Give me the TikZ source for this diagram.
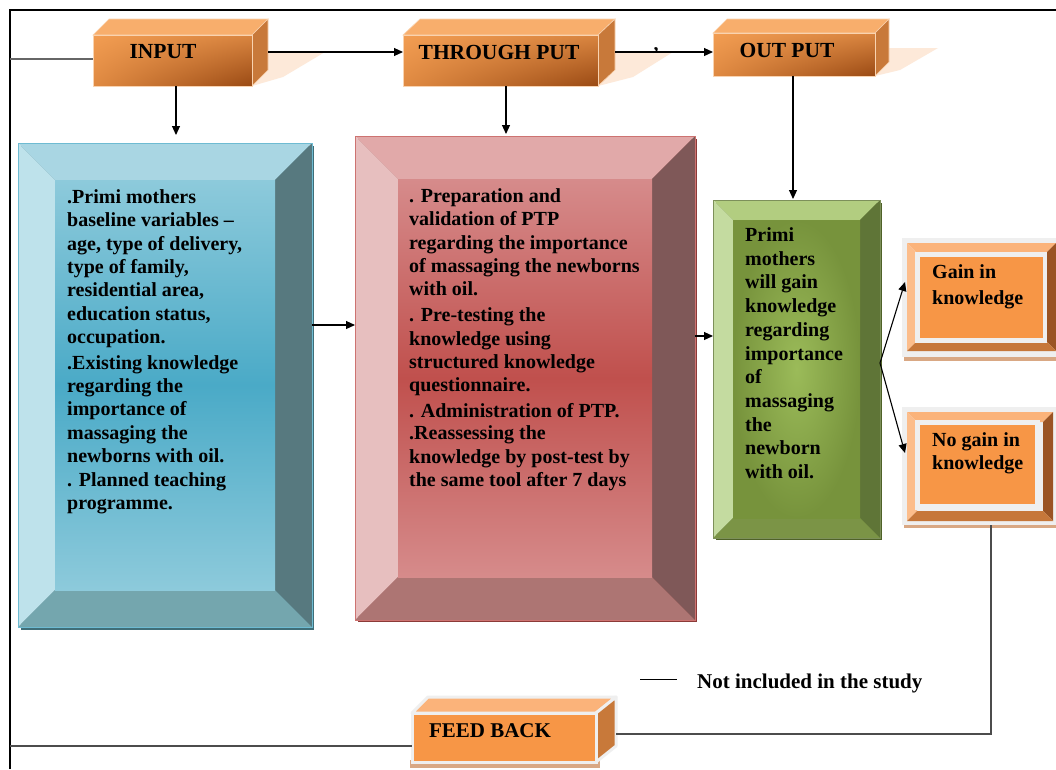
\documentclass[tikz,border=0pt]{standalone}
\usepackage{fontspec}
\setmainfont{Liberation Serif}
\usetikzlibrary{arrows.meta,shadings}
\definecolor{orUL}{HTML}{F29D52}
\definecolor{orUR}{HTML}{D98540}
\definecolor{orLL}{HTML}{E08A42}
\definecolor{orLR}{HTML}{9A4A14}
\definecolor{orTop}{HTML}{F8AE6C}
\definecolor{orSide}{HTML}{C8793A}
\definecolor{orEdge}{HTML}{F9D3B0}
\definecolor{orShadow}{HTML}{FDE9D9}
\definecolor{bTop}{HTML}{A9D6E3}
\definecolor{bLeft}{HTML}{BEE2EB}
\definecolor{bRight}{HTML}{57797F}
\definecolor{bBot}{HTML}{74A6AE}
\definecolor{bFaceA}{HTML}{8DCADB}
\definecolor{bFaceB}{HTML}{4AAAC7}
\definecolor{bShadow}{HTML}{3F6E78}
\definecolor{rTop}{HTML}{E1A9A9}
\definecolor{rLeft}{HTML}{E7BFBF}
\definecolor{rRight}{HTML}{7F5858}
\definecolor{rBot}{HTML}{AD7573}
\definecolor{rFaceA}{HTML}{D68B8B}
\definecolor{rFaceB}{HTML}{C0504D}
\definecolor{rShadow}{HTML}{8C3A38}
\definecolor{gTop}{HTML}{B2CD80}
\definecolor{gLeft}{HTML}{C4DBA0}
\definecolor{gRight}{HTML}{5F7537}
\definecolor{gBot}{HTML}{7B9446}
\definecolor{gFaceIn}{HTML}{9BBB59}
\definecolor{gFaceOut}{HTML}{77933C}
\definecolor{gShadow}{HTML}{4F6228}
\definecolor{oFrame}{HTML}{EFEFEF}
\definecolor{oTop}{HTML}{FBB37A}
\definecolor{oLeft}{HTML}{FCBD8B}
\definecolor{oRight}{HTML}{9A5424}
\definecolor{oBot}{HTML}{C6773A}
\definecolor{oFace}{HTML}{F79646}
\definecolor{oShadow}{HTML}{D9A884}
\newcommand\bev[9]{%
  \fill[#6] (#1,#2) -- (#3,#2) -- ({#3-#5},{#2+#5}) -- ({#1+#5},{#2+#5}) -- cycle;
  \fill[#7] (#1,#2) -- ({#1+#5},{#2+#5}) -- ({#1+#5},{#4-#5}) -- (#1,#4) -- cycle;
  \fill[#8] (#3,#2) -- (#3,#4) -- ({#3-#5},{#4-#5}) -- ({#3-#5},{#2+#5}) -- cycle;
  \fill[#9] (#1,#4) -- (#3,#4) -- ({#3-#5},{#4-#5}) -- ({#1+#5},{#4-#5}) -- cycle;
}
\newcommand\cuboid[6]{%
  \filldraw[fill=orTop, draw=orEdge, line width=0.6pt] (#1,#2) -- ({#1+#5},{#2-#6}) -- ({#3+#5},{#2-#6}) -- (#3,#2) -- cycle;
  \filldraw[fill=orSide, draw=orEdge, line width=0.6pt] (#3,#2) -- ({#3+#5},{#2-#6}) -- ({#3+#5},{#4-#6}) -- (#3,#4) -- cycle;
  \shade[upper left=orUL, upper right=orUR, lower left=orLL, lower right=orLR] (#1,#2) rectangle (#3,#4);
  \draw[orEdge, line width=0.6pt] (#1,#2) rectangle (#3,#4);
}
\tikzset{
  arr/.style={draw=black, line width=1.1pt, -{Triangle[length=9pt,width=8pt]}},
  conn/.style={draw=black!70, line width=1.2pt},
  gline/.style={draw=black!60, line width=1.8pt},
  frameline/.style={draw=black, line width=2pt},
  area/.style={inner sep=0pt, outer sep=0pt},
  body/.style={font=\fontsize{20}{23.3}\selectfont\bfseries, align=left, inner sep=0pt, anchor=north west},
  title/.style={font=\fontsize{21.5}{24}\selectfont\bfseries, inner sep=0pt}
}
\begin{document}
\begin{tikzpicture}[x=1pt,y=-1pt]
\clip (0,0) rectangle (1056,769);
\fill[white] (0,0) rectangle (1056,769);
% frame
\coordinate (fBL) at (10,769);
\coordinate (fTL) at (10,10);
\coordinate (fTR) at (1056,10);
\draw[frameline] (fBL) -- (fTL) -- (fTR);

% ---------- top cuboids ----------
\fill[orShadow] (268,52) -- (325,52) -- (283,77) -- (252,86) -- (268,70) -- cycle;
\cuboid{93}{35}{252}{86}{16}{16}
\node[area, minimum width=159pt, minimum height=51pt] (input) at (172.5,60.5) {};
\node[title] (inputlbl) at (163,52) {INPUT};

\fill[orShadow] (615,52) -- (673,52) -- (633,77) -- (598,86) -- (615,70) -- cycle;
\cuboid{403}{35}{598}{86}{17}{16}
\node[area, minimum width=195pt, minimum height=51pt] (through) at (500.5,60.5) {};
\node[title] (throughlbl) at (499,52) {THROUGH PUT};

\fill[orShadow] (888,48) -- (938,48) -- (900,70) -- (875,76) -- (888,62) -- cycle;
\cuboid{713}{33}{875}{76}{14}{14}
\node[area, minimum width=162pt, minimum height=43pt] (output) at (794,54.5) {};
\node[title] (outputlbl) at (787,50) {OUT PUT};

\node[inner sep=0pt, font=\fontsize{20}{23}\selectfont\bfseries, anchor=base] (tick) at (656,50) {,};

% ---------- blue box ----------
\fill[bShadow] (21,146) rectangle (314,630);
\bev{18}{143}{312}{627}{37}{bTop}{bLeft}{bRight}{bBot}
\shade[top color=bFaceA, bottom color=bFaceA, middle color=bFaceB] (55,180) rectangle (275,590);
\draw[bFaceB!80, line width=0.5pt] (18,143) rectangle (312,627);
\node[area, minimum width=294pt, minimum height=484pt] (blue) at (165,385) {};
\node[body] (bluetext) at (67,189.5) {.Primi mothers\\
baseline variables –\\
age, type of delivery,\\
type of family,\\
residential area,\\
education status,\\
occupation.\\[2.7pt]
.Existing knowledge\\
regarding the\\
importance of\\
massaging the\\
newborns with oil.\\[0.7pt]
. Planned teaching\\
programme.};

% ---------- red box ----------
\fill[rShadow] (358,139) rectangle (697,622);
\bev{355}{136}{695}{620}{43}{rTop}{rLeft}{rRight}{rBot}
\shade[top color=rFaceA, bottom color=rFaceA, middle color=rFaceB] (398,179) rectangle (652,577);
\draw[rFaceB!80, line width=0.5pt] (355,136) rectangle (695,620);
\node[area, minimum width=340pt, minimum height=484pt] (red) at (525,378) {};
\node[body] (redtext) at (409,188.5) {. Preparation and\\
validation of PTP\\
regarding the importance\\
of massaging the newborns\\
with oil.\\[2.7pt]
. Pre-testing the\\
knowledge using\\
structured knowledge\\
questionnaire.\\[2.7pt]
. Administration of PTP.\\[-1pt]
.Reassessing the\\
knowledge by post-test by\\
the same tool after 7 days};

% ---------- green box ----------
\fill[gShadow] (716,203) rectangle (882,540);
\bev{713}{200}{880}{538}{20}{gTop}{gLeft}{gRight}{gBot}
\shade[inner color=gFaceIn, outer color=gFaceOut] (733,220) rectangle (860,518);
\draw[gTop!70!black, line width=0.4pt] (713,200) rectangle (880,538);
\node[area, minimum width=167pt, minimum height=338pt] (green) at (796.5,369) {};
\node[body, font=\fontsize{20}{23.7}\selectfont\bfseries] (greentext) at (745,227.5) {Primi\\
mothers\\
will gain\\
knowledge\\
regarding\\
importance\\
of\\
massaging\\
the\\
newborn\\
with oil.};

% ---------- gain box ----------
\fill[oShadow] (904,354) rectangle (1060,361);
\fill[oFrame] (902,238) rectangle (1060,357);
\bev{907}{243}{1056}{351}{9}{oTop}{oLeft}{oRight}{oBot}
\fill[oFrame] (915,252) rectangle (1047,343);
\fill[oFace] (920,257) rectangle (1043,338);
\node[area, minimum width=154pt, minimum height=119pt] (gain) at (979,297.5) {};
\node[body] (gaintext) at (932,264.5) {Gain in\\[2.7pt]knowledge};

% ---------- no gain box ----------
\fill[oShadow] (904,522) rectangle (1057,528);
\fill[oFrame] (902,407) rectangle (1056,525);
\bev{907}{412}{1053}{521}{10}{oTop}{oLeft}{oRight}{oBot}
\fill[oFrame] (915,420) rectangle (1040,510);
\fill[oFace] (920,425) rectangle (1035,504);
\node[area, minimum width=154pt, minimum height=118pt] (nogain) at (979,466) {};
\node[body] (nogaintext) at (932,432.5) {No gain in\\knowledge};

% ---------- feed back box ----------
\fill[oShadow] (410,760) rectangle (600,768);
\filldraw[fill=oTop, draw=oFrame, line width=3pt, line join=round] (412,713) -- (428,697) -- (616,697) -- (596,713) -- cycle;
\filldraw[fill=orSide, draw=oFrame, line width=3pt, line join=round] (596,713) -- (616,697) -- (616,746) -- (596,762) -- cycle;
\filldraw[fill=oFace, draw=oFrame, line width=3pt] (412,713) rectangle (596,762);
\node[area, minimum width=184pt, minimum height=49pt] (feedback) at (504,737.5) {};
\node[title, font=\fontsize{21}{24}\selectfont\bfseries] (feedbacklbl) at (490,731) {FEED BACK};

% ---------- connectors ----------
\coordinate (y59) at (10,59);
\draw[gline] (y59) -- (input.west |- y59);

\coordinate (inR) at (268,52);
\draw[arr] (inR) -- (through.west |- inR);
\coordinate (thR) at (615,52);
\draw[arr] (thR) -- (output.west |- thR);

\coordinate (inB) at (176,86);
\draw[arr, shorten >=8pt] (inB) -- (blue.north -| inB);
\coordinate (thB) at (506,86);
\draw[arr, shorten >=2pt] (thB) -- (red.north -| thB);
\coordinate (outB) at (793,76);
\draw[arr, shorten >=1pt] (outB) -- (green.north -| outB);

\coordinate (br) at (312,325);
\draw[arr] (br) -- (red.west |- br);
\coordinate (rg) at (695,336);
\draw[arr] (rg) -- (green.west |- rg);

\coordinate (j) at (880,363);
\coordinate (gainIn) at (905,282);
\coordinate (nogainIn) at (905,453);
\draw[arr] (j) -- (gainIn);
\draw[arr] (j) -- (nogainIn);

\coordinate (ngB) at (991,525);
\coordinate (corner) at (991,734);
\coordinate (fbR) at (616,734);
\draw[conn] (ngB) -- (corner) -- (fbR);

\coordinate (y746) at (10,746);
\draw[conn] (y746) -- (feedback.west |- y746);

% legend
\coordinate (lg1) at (640,679);
\coordinate (lg2) at (677,679);
\draw[line width=1pt] (lg1) -- (lg2);
\node[inner sep=0pt, anchor=west, font=\fontsize{21}{24}\selectfont\bfseries] (legend) at (697,683) {Not included in the study};
\end{tikzpicture}
\end{document}
